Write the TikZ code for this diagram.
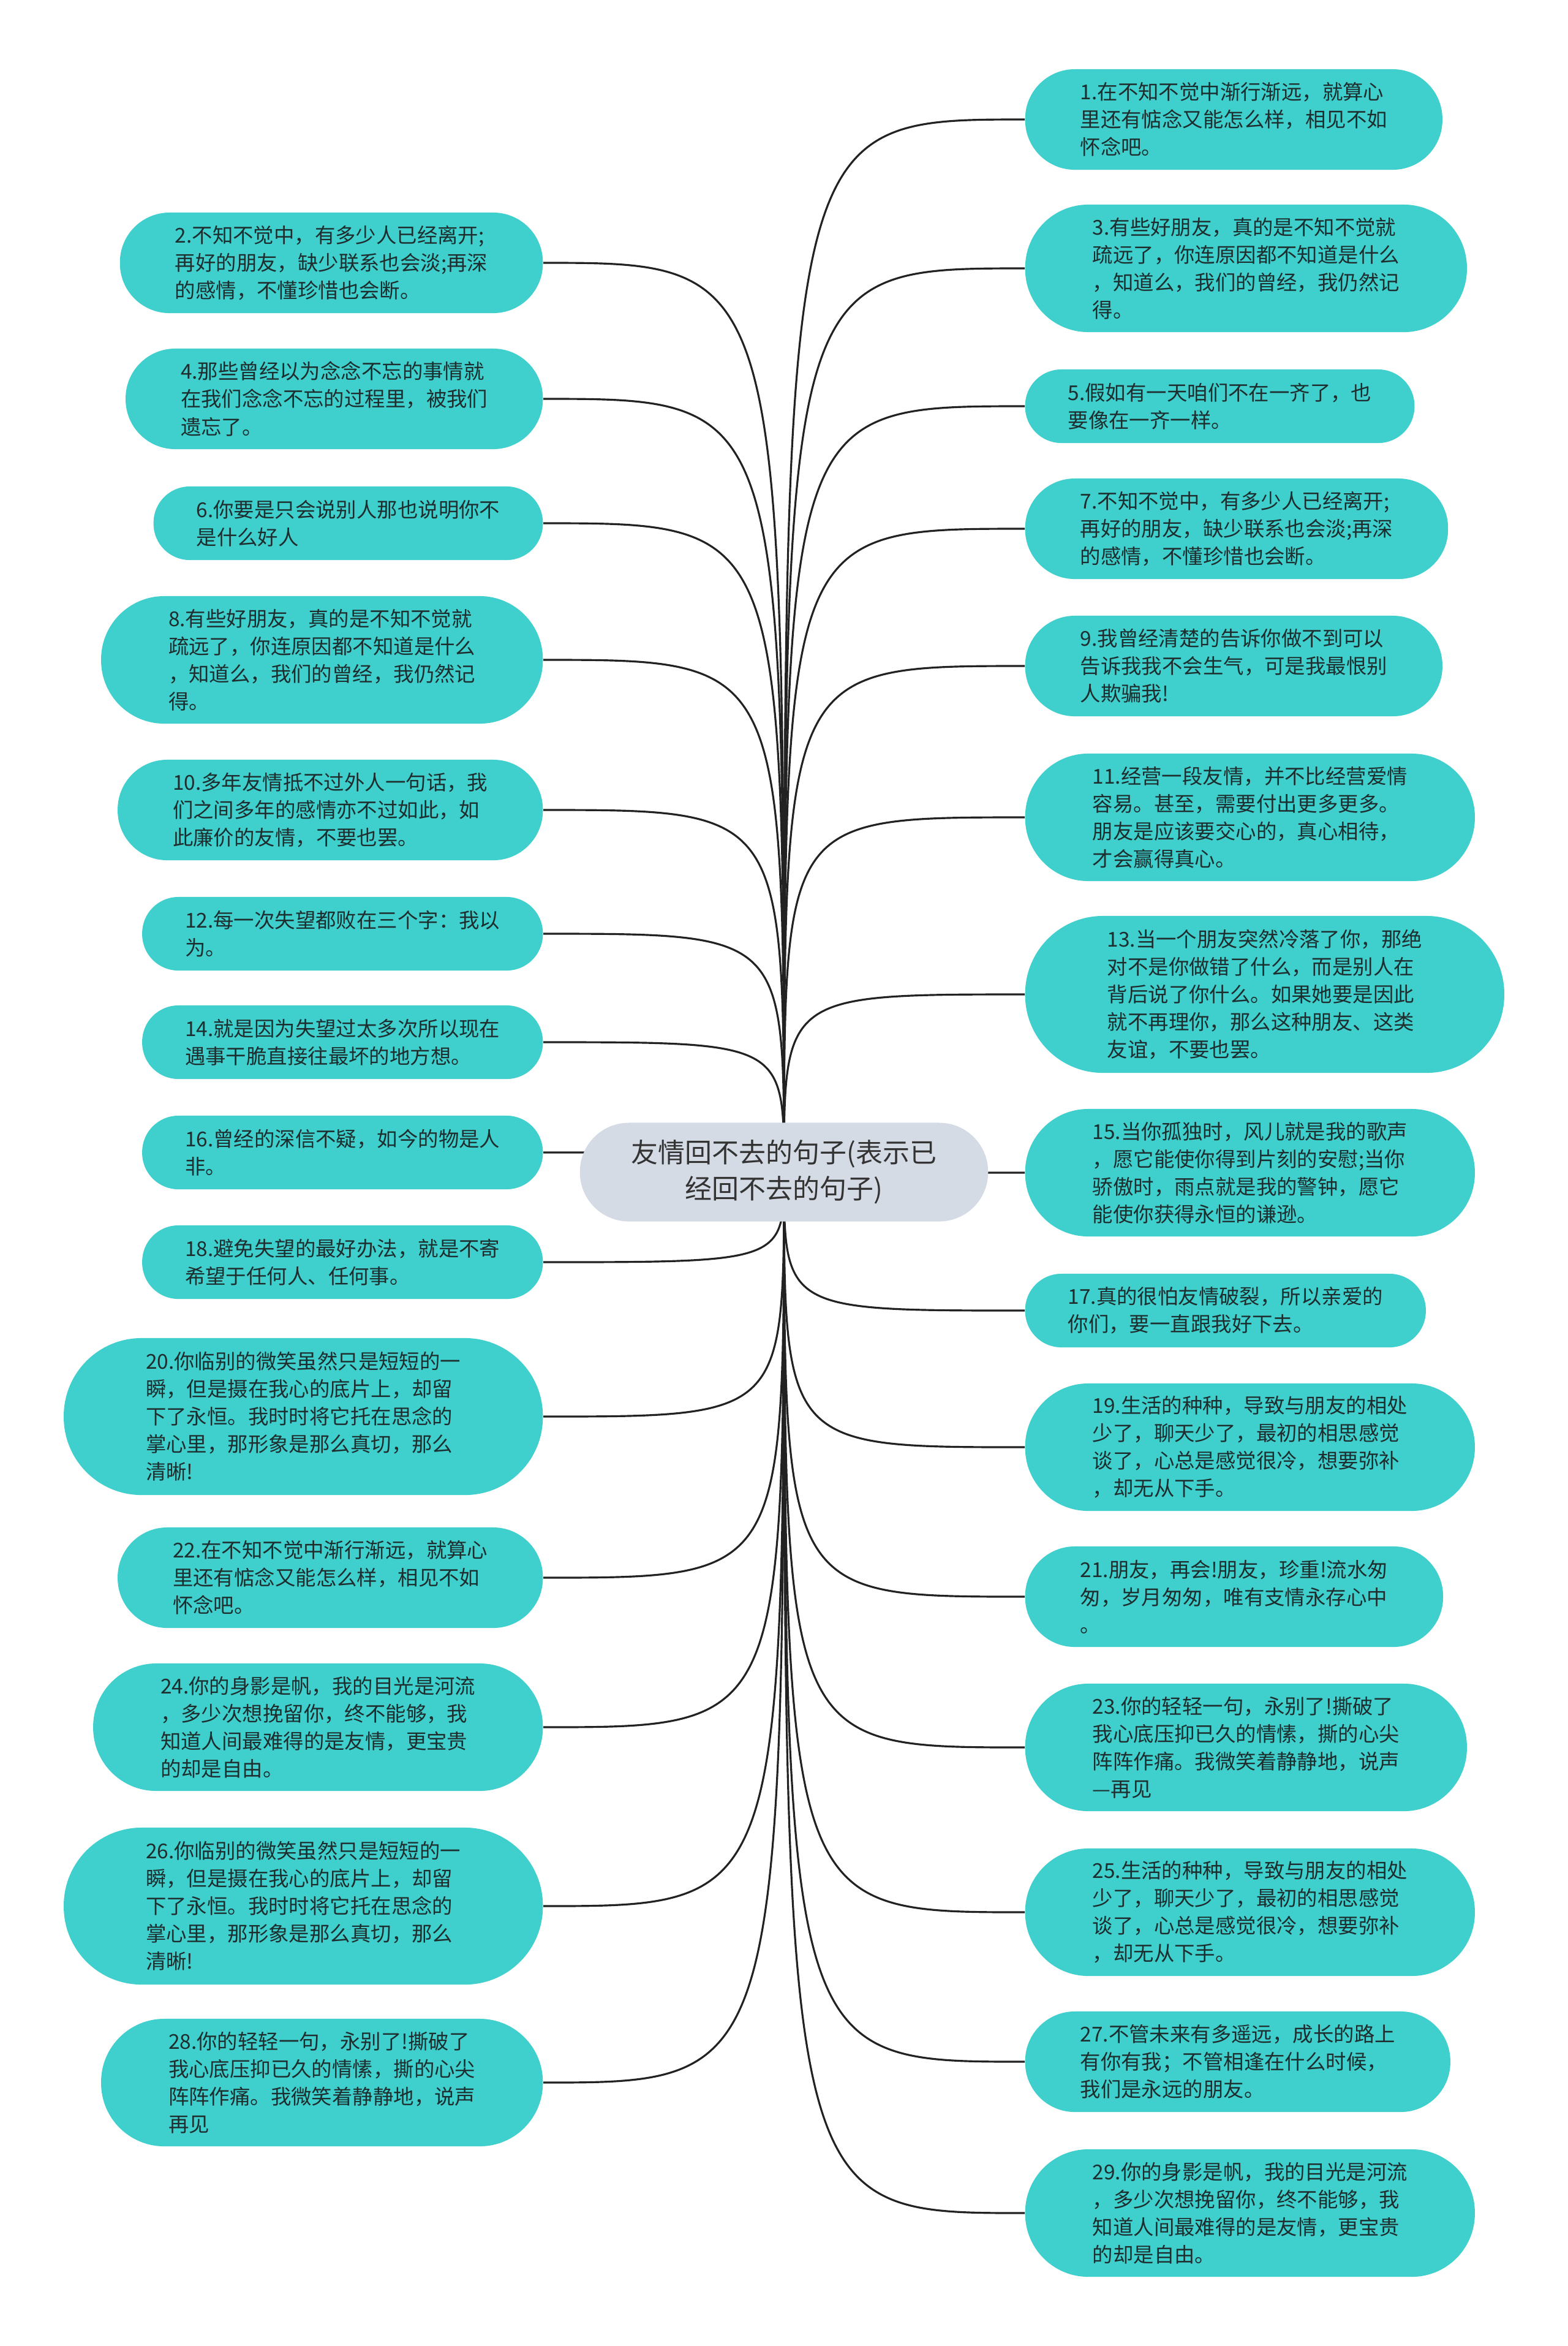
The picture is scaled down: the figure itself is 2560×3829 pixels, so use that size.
\documentclass[tikz,border=0pt]{standalone}
\usepackage{fontspec}
\setmainfont{Noto Sans CJK SC}
\usepackage{xcolor, tikz}
\usetikzlibrary{backgrounds,calc}
\definecolor{rootgray}{HTML}{D5DBE5}
\definecolor{rootink}{HTML}{333333}
\definecolor{leafteal}{HTML}{3FCFCD}
\definecolor{leafink}{HTML}{1E2D2D}
\definecolor{linkblack}{HTML}{222222}
\tikzstyle{topic} = [rectangle, fill=rootgray, text=rootink, font=\fontsize{12.5pt}{16.7pt}\selectfont, align=center, minimum height=1.61cm, rounded corners=0.8cm, inner xsep=0.84cm, inner ysep=0.1cm]
\tikzstyle{leaf} = [rectangle, fill=leafteal, text=leafink, font=\fontsize{9.5pt}{12.8pt}\selectfont, align=left, inner ysep=0.1cm]
\tikzstyle{lines2} = [leaf, minimum height=1.2cm, rounded corners=0.59cm, inner xsep=0.7cm]
\tikzstyle{lines3} = [leaf, minimum height=1.64cm, rounded corners=0.81cm, inner xsep=0.9cm]
\tikzstyle{lines4} = [leaf, minimum height=2.08cm, rounded corners=1.03cm, inner xsep=1.1cm]
\tikzstyle{lines5} = [leaf, minimum height=2.56cm, rounded corners=1.27cm, inner xsep=1.34cm]
\tikzstyle{link} = [line width=0.9pt, draw=linkblack]

\begin{document}
\begin{tikzpicture}[x=0.01cm, y=-0.01cm]
  \useasboundingbox (0,0) rectangle (2560,3829);
  \node (root)[topic] at (1280,1913) {友情回不去的句子(表示已\\经回不去的句子)};
  % right side
  \node (q1)[lines3, anchor=west] at (1673,195) {1.在不知不觉中渐行渐远，就算心\\里还有惦念又能怎么样，相见不如\\怀念吧。};
  \node (q3)[lines4, anchor=west] at (1673,438) {3.有些好朋友，真的是不知不觉就\\疏远了，你连原因都不知道是什么\\，知道么，我们的曾经，我仍然记\\得。};
  \node (q5)[lines2, anchor=west] at (1673,663) {5.假如有一天咱们不在一齐了，也\\要像在一齐一样。};
  \node (q7)[lines3, anchor=west] at (1673,863) {7.不知不觉中，有多少人已经离开;\\再好的朋友，缺少联系也会淡;再深\\的感情，不懂珍惜也会断。};
  \node (q9)[lines3, anchor=west] at (1673,1087) {9.我曾经清楚的告诉你做不到可以\\告诉我我不会生气，可是我最恨别\\人欺骗我!};
  \node (q11)[lines4, anchor=west] at (1673,1334) {11.经营一段友情，并不比经营爱情\\容易。甚至，需要付出更多更多。\\朋友是应该要交心的，真心相待，\\才会赢得真心。};
  \node (q13)[lines5, anchor=west] at (1673,1623) {13.当一个朋友突然冷落了你，那绝\\对不是你做错了什么，而是别人在\\背后说了你什么。如果她要是因此\\就不再理你，那么这种朋友、这类\\友谊，不要也罢。};
  \node (q15)[lines4, anchor=west] at (1673,1914) {15.当你孤独时，风儿就是我的歌声\\，愿它能使你得到片刻的安慰;当你\\骄傲时，雨点就是我的警钟，愿它\\能使你获得永恒的谦逊。};
  \node (q17)[lines2, anchor=west] at (1673,2139) {17.真的很怕友情破裂，所以亲爱的\\你们，要一直跟我好下去。};
  \node (q19)[lines4, anchor=west] at (1673,2362) {19.生活的种种，导致与朋友的相处\\少了，聊天少了，最初的相思感觉\\谈了，心总是感觉很冷，想要弥补\\，却无从下手。};
  \node (q21)[lines3, anchor=west] at (1673,2606) {21.朋友，再会!朋友，珍重!流水匆\\匆，岁月匆匆，唯有支情永存心中\\。};
  \node (q23)[lines4, anchor=west] at (1673,2852) {23.你的轻轻一句，永别了!撕破了\\我心底压抑已久的情愫，撕的心尖\\阵阵作痛。我微笑着静静地，说声\\—再见};
  \node (q25)[lines4, anchor=west] at (1673,3121) {25.生活的种种，导致与朋友的相处\\少了，聊天少了，最初的相思感觉\\谈了，心总是感觉很冷，想要弥补\\，却无从下手。};
  \node (q27)[lines3, anchor=west] at (1673,3365) {27.不管未来有多遥远，成长的路上\\有你有我；不管相逢在什么时候，\\我们是永远的朋友。};
  \node (q29)[lines4, anchor=west] at (1673,3612) {29.你的身影是帆，我的目光是河流\\，多少次想挽留你，终不能够，我\\知道人间最难得的是友情，更宝贵\\的却是自由。};
  % left side
  \node (q2)[lines3, anchor=east] at (887,429) {2.不知不觉中，有多少人已经离开;\\再好的朋友，缺少联系也会淡;再深\\的感情，不懂珍惜也会断。};
  \node (q4)[lines3, anchor=east] at (887,651) {4.那些曾经以为念念不忘的事情就\\在我们念念不忘的过程里，被我们\\遗忘了。};
  \node (q6)[lines2, anchor=east] at (887,854) {6.你要是只会说别人那也说明你不\\是什么好人};
  \node (q8)[lines4, anchor=east] at (887,1077) {8.有些好朋友，真的是不知不觉就\\疏远了，你连原因都不知道是什么\\，知道么，我们的曾经，我仍然记\\得。};
  \node (q10)[lines3, anchor=east] at (887,1322) {10.多年友情抵不过外人一句话，我\\们之间多年的感情亦不过如此，如\\此廉价的友情，不要也罢。};
  \node (q12)[lines2, anchor=east] at (887,1524) {12.每一次失望都败在三个字：我以\\为。};
  \node (q14)[lines2, anchor=east] at (887,1701) {14.就是因为失望过太多次所以现在\\遇事干脆直接往最坏的地方想。};
  \node (q16)[lines2, anchor=east] at (887,1881) {16.曾经的深信不疑，如今的物是人\\非。};
  \node (q18)[lines2, anchor=east] at (887,2060) {18.避免失望的最好办法，就是不寄\\希望于任何人、任何事。};
  \node (q20)[lines5, anchor=east] at (887,2312) {20.你临别的微笑虽然只是短短的一\\瞬，但是摄在我心的底片上，却留\\下了永恒。我时时将它托在思念的\\掌心里，那形象是那么真切，那么\\清晰!};
  \node (q22)[lines3, anchor=east] at (887,2575) {22.在不知不觉中渐行渐远，就算心\\里还有惦念又能怎么样，相见不如\\怀念吧。};
  \node (q24)[lines4, anchor=east] at (887,2819) {24.你的身影是帆，我的目光是河流\\，多少次想挽留你，终不能够，我\\知道人间最难得的是友情，更宝贵\\的却是自由。};
  \node (q26)[lines5, anchor=east] at (887,3111) {26.你临别的微笑虽然只是短短的一\\瞬，但是摄在我心的底片上，却留\\下了永恒。我时时将它托在思念的\\掌心里，那形象是那么真切，那么\\清晰!};
  \node (q28)[lines4, anchor=east] at (887,3399) {28.你的轻轻一句，永别了!撕破了\\我心底压抑已久的情愫，撕的心尖\\阵阵作痛。我微笑着静静地，说声\\再见};
  \begin{scope}[on background layer]
    \fill [white] (0,0) rectangle (2560,3829);
    \draw [link] (root.center) .. controls (root.center |- q1.west) .. (q1.west);
    \draw [link] (root.center) .. controls (root.center |- q3.west) .. (q3.west);
    \draw [link] (root.center) .. controls (root.center |- q5.west) .. (q5.west);
    \draw [link] (root.center) .. controls (root.center |- q7.west) .. (q7.west);
    \draw [link] (root.center) .. controls (root.center |- q9.west) .. (q9.west);
    \draw [link] (root.center) .. controls (root.center |- q11.west) .. (q11.west);
    \draw [link] (root.center) .. controls (root.center |- q13.west) .. (q13.west);
    \draw [link] (root.center) .. controls (root.center |- q15.west) .. (q15.west);
    \draw [link] (root.center) .. controls (root.center |- q17.west) .. (q17.west);
    \draw [link] (root.center) .. controls (root.center |- q19.west) .. (q19.west);
    \draw [link] (root.center) .. controls (root.center |- q21.west) .. (q21.west);
    \draw [link] (root.center) .. controls (root.center |- q23.west) .. (q23.west);
    \draw [link] (root.center) .. controls (root.center |- q25.west) .. (q25.west);
    \draw [link] (root.center) .. controls (root.center |- q27.west) .. (q27.west);
    \draw [link] (root.center) .. controls (root.center |- q29.west) .. (q29.west);
    \draw [link] (root.center) .. controls (root.center |- q2.east) .. (q2.east);
    \draw [link] (root.center) .. controls (root.center |- q4.east) .. (q4.east);
    \draw [link] (root.center) .. controls (root.center |- q6.east) .. (q6.east);
    \draw [link] (root.center) .. controls (root.center |- q8.east) .. (q8.east);
    \draw [link] (root.center) .. controls (root.center |- q10.east) .. (q10.east);
    \draw [link] (root.center) .. controls (root.center |- q12.east) .. (q12.east);
    \draw [link] (root.center) .. controls (root.center |- q14.east) .. (q14.east);
    \draw [link] (root.center) .. controls (root.center |- q16.east) .. (q16.east);
    \draw [link] (root.center) .. controls (root.center |- q18.east) .. (q18.east);
    \draw [link] (root.center) .. controls (root.center |- q20.east) .. (q20.east);
    \draw [link] (root.center) .. controls (root.center |- q22.east) .. (q22.east);
    \draw [link] (root.center) .. controls (root.center |- q24.east) .. (q24.east);
    \draw [link] (root.center) .. controls (root.center |- q26.east) .. (q26.east);
    \draw [link] (root.center) .. controls (root.center |- q28.east) .. (q28.east);
  \end{scope}
\end{tikzpicture}
\end{document}
